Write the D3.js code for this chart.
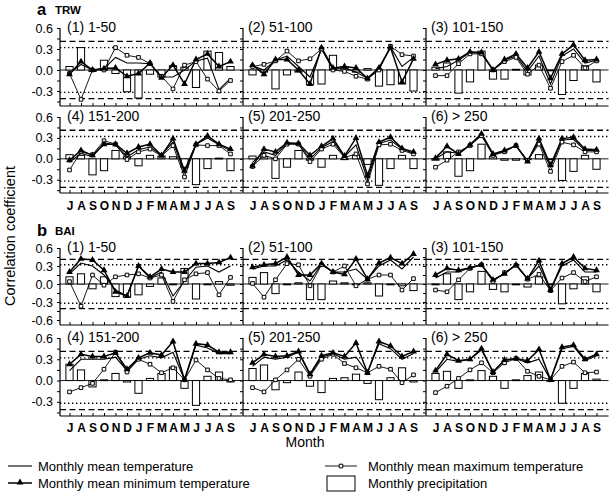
<!DOCTYPE html>
<html><head><meta charset="utf-8">
<script src="https://cdn.jsdelivr.net/npm/d3@7"></script>
<style>body{margin:0;background:#fff} text{font-family:Arial,"Liberation Sans",sans-serif;fill:#000}</style>
</head><body><svg id="c" width="610" height="493"></svg>
<script>
const months = ["J","A","S","O","N","D","J","F","M","A","M","J","J","A","S"];
const panelTitles = ["(1) 1-50","(2)  51-100","(3)  101-150","(4)  151-200","(5)  201-250","(6)  > 250"];
const sectionLetters = ["a","b"];
const sectionNames = ["TRW","BAI"];
const refDashed = [0.41,-0.41];
const refDotted = [0.32,-0.32];

// ---- TRW ----
const trw1Tmean = [-0.05,0.08,0.0,0.02,0.18,0.10,0.10,0.09,-0.10,-0.10,0.0,0.13,0.17,-0.28,-0.12];
const trw1Tmin  = [-0.06,0.12,0.0,0.02,0.03,-0.09,-0.05,0.10,-0.11,0.07,-0.20,0.15,0.23,0.05,0.12];
const trw1Tmax  = [-0.05,-0.42,0.0,0.0,0.32,0.21,0.18,0.09,-0.09,-0.27,0.07,0.12,-0.13,-0.30,-0.15];
const trw1Prec  = [0.05,0.32,-0.02,0.14,-0.05,-0.31,-0.40,-0.06,-0.10,0.06,0.04,-0.25,0.27,0.25,0.05];

const trw2Tmean = [0.06,0.0,0.14,0.20,0.05,-0.10,0.30,0.02,0.03,-0.03,-0.12,0.02,0.33,0.05,0.18];
const trw2Tmin  = [0.07,-0.06,0.15,0.15,0.0,-0.20,0.32,0.03,0.05,0.03,-0.12,0.03,0.32,-0.17,0.16];
const trw2Tmax  = [0.05,0.08,0.13,0.27,0.13,0.16,0.30,0.0,-0.02,-0.09,-0.13,0.0,0.34,0.22,0.20];
const trw2Prec  = [-0.07,-0.03,-0.27,-0.07,-0.03,-0.21,-0.20,0.21,0.05,-0.03,0.02,-0.23,-0.21,-0.20,-0.30];

const trw3Tmean = [0.02,0.05,0.14,0.25,0.24,0.0,0.14,0.20,-0.02,0.20,-0.20,0.20,0.30,0.10,0.14];
const trw3Tmin  = [0.08,0.14,0.16,0.26,0.25,0.0,0.15,0.23,0.03,0.26,-0.12,0.23,0.36,0.14,0.15];
const trw3Tmax  = [-0.08,-0.08,0.09,0.23,0.23,0.0,0.12,0.18,-0.06,0.07,-0.26,0.12,0.21,0.03,0.13];
const trw3Prec  = [0.04,0.10,-0.33,-0.17,0.27,-0.13,-0.13,0.01,-0.07,0.07,-0.01,-0.35,-0.15,0.06,-0.17];

const trw4Tmean = [-0.05,0.08,0.03,0.23,0.20,0.03,0.13,0.17,0.05,0.24,-0.20,0.21,0.30,0.20,0.12];
const trw4Tmin  = [-0.02,0.12,0.05,0.21,0.21,0.08,0.17,0.21,0.05,0.29,-0.17,0.21,0.33,0.21,0.14];
const trw4Tmax  = [-0.16,0.10,0.06,0.26,0.21,-0.01,0.10,0.14,0.04,0.19,-0.26,0.20,0.19,0.19,0.07];
const trw4Prec  = [0.06,0.05,-0.23,-0.17,0.12,0.03,-0.10,0.05,0.04,0.03,-0.12,-0.37,-0.14,0.01,-0.17];

const trw5Tmean = [-0.05,0.10,0.05,0.22,0.21,0.0,0.16,0.25,0.03,0.20,-0.30,0.22,0.27,0.14,0.08];
const trw5Tmin  = [-0.10,0.14,0.10,0.23,0.22,0.05,0.18,0.29,0.04,0.30,-0.24,0.24,0.31,0.15,0.10];
const trw5Tmax  = [-0.11,0.05,0.0,0.21,0.21,-0.04,0.14,0.21,0.02,0.07,-0.36,0.20,0.21,0.12,0.07];
const trw5Prec  = [0.04,0.03,-0.28,-0.12,0.12,-0.02,-0.12,0.05,0.0,0.05,-0.08,-0.38,-0.14,0.05,-0.14];

const trw6Tmean = [0.0,0.10,0.08,0.20,0.35,0.06,0.11,0.19,-0.03,0.25,-0.12,0.27,0.28,0.12,0.12];
const trw6Tmin  = [0.01,0.18,0.07,0.20,0.36,0.07,0.12,0.19,-0.04,0.29,-0.09,0.29,0.31,0.14,0.13];
const trw6Tmax  = [-0.12,-0.02,0.10,0.19,0.33,0.05,0.10,0.19,-0.02,0.21,-0.18,0.24,0.20,0.10,0.10];
const trw6Prec  = [-0.02,0.10,-0.25,-0.17,0.21,0.03,-0.02,-0.02,0.0,0.06,-0.01,-0.31,-0.18,0.05,-0.15];

// ---- BAI ----
const bai1Tmean = [0.17,0.35,0.30,0.15,-0.10,-0.20,0.30,0.10,0.20,-0.20,0.05,0.28,0.30,0.20,0.30];
const bai1Tmin  = [0.20,0.42,0.40,0.23,-0.13,-0.20,0.30,0.12,0.25,0.20,0.20,0.34,0.34,0.36,0.44];
const bai1Tmax  = [0.04,-0.37,0.15,-0.02,0.12,0.15,0.17,0.10,0.15,-0.29,0.07,0.17,0.19,-0.18,0.11];
const bai1Prec  = [0.12,0.17,-0.08,0.12,-0.21,-0.22,-0.18,-0.04,0.10,0.0,0.26,-0.25,0.0,0.04,-0.02];

const bai2Tmean = [0.25,0.30,0.30,0.40,0.20,0.05,0.33,0.20,0.20,0.25,0.08,0.30,0.40,0.25,0.45];
const bai2Tmin  = [0.28,0.32,0.34,0.45,0.15,0.15,0.34,0.20,0.16,0.42,0.08,0.35,0.44,0.34,0.50];
const bai2Tmax  = [0.01,-0.22,0.07,0.34,0.32,-0.03,0.32,0.20,0.30,-0.03,0.08,0.15,0.15,-0.10,0.09];
const bai2Prec  = [0.11,0.19,-0.16,0.0,0.02,-0.26,-0.26,0.05,0.02,0.0,0.02,-0.20,0.0,-0.03,-0.11];

const bai3Tmean = [0.10,0.20,0.20,0.27,0.32,0.06,0.18,0.32,0.09,0.30,-0.10,0.30,0.40,0.20,0.20];
const bai3Tmin  = [0.15,0.26,0.23,0.27,0.32,0.07,0.17,0.32,0.09,0.39,-0.10,0.34,0.45,0.26,0.23];
const bai3Tmax  = [-0.10,-0.13,0.07,0.26,0.32,0.04,0.19,0.31,0.08,0.16,-0.11,0.10,0.19,0.04,0.12];
const bai3Prec  = [0.0,0.17,-0.26,-0.13,0.21,-0.09,-0.13,0.0,-0.05,0.12,0.0,-0.33,-0.08,0.12,-0.13];

const bai4Tmean = [0.14,0.30,0.30,0.30,0.33,0.14,0.30,0.35,0.32,0.40,0.01,0.50,0.46,0.38,0.38];
const bai4Tmin  = [0.23,0.37,0.34,0.34,0.39,0.16,0.32,0.39,0.36,0.55,0.01,0.52,0.50,0.40,0.40];
const bai4Tmax  = [-0.16,-0.10,-0.04,0.16,0.40,0.12,0.30,0.23,0.11,0.18,0.01,0.29,0.15,0.03,0.01];
const bai4Prec  = [0.23,0.15,-0.09,0.01,0.10,-0.02,-0.18,0.03,0.10,0.19,-0.11,-0.35,0.06,0.12,-0.02];

const bai5Tmean = [0.20,0.33,0.30,0.33,0.40,0.08,0.33,0.38,0.30,0.33,0.11,0.52,0.45,0.30,0.38];
const bai5Tmin  = [0.25,0.37,0.34,0.35,0.41,0.09,0.35,0.39,0.34,0.53,0.11,0.55,0.49,0.34,0.41];
const bai5Tmax  = [-0.10,-0.16,0.01,0.15,0.30,0.06,0.30,0.37,0.24,0.18,0.11,0.20,0.16,-0.03,0.08];
const bai5Prec  = [0.17,0.22,-0.13,-0.03,0.12,-0.08,-0.17,0.03,0.04,0.09,-0.04,-0.27,0.04,0.18,-0.02];

const bai6Tmean = [0.12,0.30,0.27,0.30,0.43,0.12,0.28,0.31,0.25,0.30,0.01,0.45,0.48,0.28,0.35];
const bai6Tmin  = [0.14,0.37,0.28,0.30,0.45,0.12,0.29,0.31,0.28,0.44,0.01,0.47,0.50,0.30,0.37];
const bai6Tmax  = [-0.17,-0.08,0.03,0.15,0.25,0.11,0.25,0.31,0.13,0.06,0.01,0.20,0.26,0.11,0.12];
const bai6Prec  = [0.10,0.13,-0.11,0.01,0.14,0.06,-0.11,0.01,0.07,0.12,0.0,-0.32,-0.11,0.10,0.02];

const sections = [
  [[trw1Tmean,trw1Tmin,trw1Tmax,trw1Prec],[trw2Tmean,trw2Tmin,trw2Tmax,trw2Prec],[trw3Tmean,trw3Tmin,trw3Tmax,trw3Prec],
   [trw4Tmean,trw4Tmin,trw4Tmax,trw4Prec],[trw5Tmean,trw5Tmin,trw5Tmax,trw5Prec],[trw6Tmean,trw6Tmin,trw6Tmax,trw6Prec]],
  [[bai1Tmean,bai1Tmin,bai1Tmax,bai1Prec],[bai2Tmean,bai2Tmin,bai2Tmax,bai2Prec],[bai3Tmean,bai3Tmin,bai3Tmax,bai3Prec],
   [bai4Tmean,bai4Tmin,bai4Tmax,bai4Prec],[bai5Tmean,bai5Tmin,bai5Tmax,bai5Prec],[bai6Tmean,bai6Tmin,bai6Tmax,bai6Prec]]
];

const svg = d3.select("#c");
const colX = [60, 243, 426];
const panelW = 182.5;
const rows = [
  {sec:0, r:0, top:28,  bottom:106, ymin:-0.514, xlabels:false, majors:[-0.3,0,0.3,0.6], pad:8},
  {sec:0, r:1, top:117, bottom:193, ymin:-0.49,  xlabels:true,  majors:[-0.3,0,0.3,0.6], pad:8},
  {sec:1, r:0, top:248, bottom:325, ymin:-0.683, xlabels:false, majors:[-0.6,-0.3,0,0.3,0.6], pad:8},
  {sec:1, r:1, top:338, bottom:416, ymin:-0.5,   xlabels:true,  majors:[-0.3,0,0.3,0.6], pad:7}
];
const minorTicks = [-0.45,-0.15,0.15,0.45];
const fmt = v => v.toFixed(1);

const triSym = d3.symbol().type(d3.symbolTriangle).size(20);
const sqSym = d3.symbol().type(d3.symbolSquare).size(13);

// section labels
[[37,15],[37,236]].forEach(([x,y],i)=>{
  svg.append("text").attr("x",x).attr("y",y).attr("font-size",16.5).attr("font-weight","bold").text(sectionLetters[i]);
  svg.append("text").attr("x",55).attr("y",y-1).attr("font-size",11.5).attr("font-weight","bold").text(sectionNames[i]);
});

rows.forEach(row=>{
  const g = svg.append("g");
  const y = d3.scaleLinear().domain([row.ymin,0.6]).range([row.bottom,row.top]);
  for(let c=0;c<3;c++){
    const idx = row.r*3+c;
    const [tm,tn,tx,pr] = sections[row.sec][idx];
    const x0 = colX[c];
    const x1 = x0+panelW;
    const x = d3.scalePoint().domain(d3.range(15)).range([x0+9.5,x0+170.5]);
    const p = g.append("g");
    // reference lines
    refDashed.forEach(v=>p.append("line").attr("x1",x0).attr("x2",x1).attr("y1",y(v)).attr("y2",y(v))
      .attr("stroke","#000").attr("stroke-width",1.3).attr("stroke-dasharray","6,3.5"));
    refDotted.forEach(v=>p.append("line").attr("x1",x0).attr("x2",x1).attr("y1",y(v)).attr("y2",y(v))
      .attr("stroke","#000").attr("stroke-width",1.4).attr("stroke-dasharray","1.4,2.6"));
    p.append("line").attr("x1",x0).attr("x2",x1).attr("y1",y(0)).attr("y2",y(0)).attr("stroke","#000").attr("stroke-width",0.9);
    // bars
    p.selectAll("rect.bar").data(pr).join("rect").attr("class","bar")
      .attr("x",(v,i)=>x(i)-3.6).attr("width",7.2)
      .attr("y",v=>Math.min(y(v),y(0))).attr("height",v=>Math.max(Math.abs(y(v)-y(0)),0.8))
      .attr("fill","#fff").attr("stroke","#000").attr("stroke-width",1);
    const line = d3.line().x((v,i)=>x(i)).y(v=>y(v));
    p.append("path").datum(tx).attr("d",line).attr("fill","none").attr("stroke","#000").attr("stroke-width",0.9);
    p.append("path").datum(tm).attr("d",line).attr("fill","none").attr("stroke","#000").attr("stroke-width",1.1);
    p.append("path").datum(tn).attr("d",line).attr("fill","none").attr("stroke","#000").attr("stroke-width",1.5);
    p.selectAll("path.sq").data(tx).join("path").attr("class","sq")
      .attr("d",sqSym).attr("transform",(v,i)=>`translate(${x(i)},${y(v)})`)
      .attr("fill","#fff").attr("stroke","#000").attr("stroke-width",1);
    p.selectAll("path.tri").data(tn).join("path").attr("class","tri")
      .attr("d",triSym).attr("transform",(v,i)=>`translate(${x(i)},${y(v)})`).attr("fill","#000");
    // x axis
    const xa = p.append("g").attr("transform",`translate(0,${row.bottom})`)
      .call(d3.axisBottom(x).tickSize(-3).tickSizeOuter(0).tickPadding(row.pad)
        .tickFormat(i=>row.xlabels?months[i]:""));
    xa.select(".domain").remove();
    xa.selectAll("line").attr("stroke","#000");
    xa.selectAll("text").attr("font-size",12).attr("font-weight","bold").attr("fill","#000")
      .attr("font-family","Arial, 'Liberation Sans', sans-serif");
    p.append("line").attr("x1",x0).attr("x2",x1).attr("y1",row.bottom).attr("y2",row.bottom).attr("stroke","#000").attr("stroke-width",1.2);
    // y axis
    const ya = p.append("g").attr("transform",`translate(${x0},0)`)
      .call(d3.axisLeft(y).tickValues(row.majors).tickSize(3).tickSizeOuter(0).tickPadding(4)
        .tickFormat(v=>c===0?fmt(v):""));
    ya.select(".domain").remove();
    ya.selectAll("text").attr("font-size",12.5).attr("fill","#000")
      .attr("font-family","Arial, 'Liberation Sans', sans-serif");
    const ym = p.append("g").attr("transform",`translate(${x0},0)`)
      .call(d3.axisLeft(y).tickValues(minorTicks.filter(v=>v>=row.ymin)).tickSize(3).tickSizeOuter(0).tickFormat(""));
    ym.select(".domain").remove();
    p.append("line").attr("x1",x0).attr("x2",x0).attr("y1",row.top).attr("y2",row.bottom).attr("stroke","#000").attr("stroke-width",1.2);
    // title
    p.append("text").attr("x",x0+(c===0?7:5)).attr("y",row.top+4).attr("font-size",14).text(panelTitles[idx]);
  }
});

// axis titles
svg.append("text").attr("transform","translate(15,236) rotate(-90)").attr("text-anchor","middle")
  .attr("font-size",14.5).text("Correlation coefficient");
svg.append("text").attr("x",305).attr("y",447).attr("text-anchor","middle").attr("font-size",14).text("Month");

// legend
const lg = svg.append("g");
lg.append("line").attr("x1",8).attr("x2",32).attr("y1",466).attr("y2",466).attr("stroke","#000").attr("stroke-width",1.1);
lg.append("text").attr("x",38).attr("y",470.5).attr("font-size",13).text("Monthly mean temperature");
lg.append("line").attr("x1",8).attr("x2",32).attr("y1",483).attr("y2",483).attr("stroke","#000").attr("stroke-width",1.5);
lg.append("path").attr("d",triSym).attr("transform","translate(20,482.5)").attr("fill","#000");
lg.append("text").attr("x",38).attr("y",487.5).attr("font-size",13).text("Monthly mean minimum temperature");
lg.append("line").attr("x1",325).attr("x2",357).attr("y1",466).attr("y2",466).attr("stroke","#000").attr("stroke-width",0.9);
lg.append("path").attr("d",sqSym).attr("transform","translate(341,466)").attr("fill","#fff").attr("stroke","#000");
lg.append("text").attr("x",368).attr("y",470.5).attr("font-size",13).text("Monthly mean maximum temperature");
lg.append("rect").attr("x",327).attr("y",476).attr("width",28).attr("height",15).attr("fill","#fff").attr("stroke","#000");
lg.append("text").attr("x",368).attr("y",487.5).attr("font-size",13).text("Monthly precipitation");
</script></body></html>
